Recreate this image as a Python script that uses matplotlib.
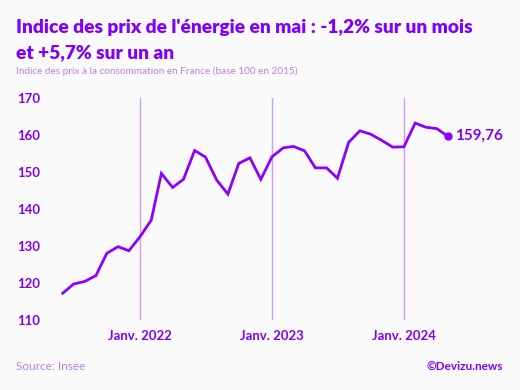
import numpy as np
import pandas as pd
import matplotlib
matplotlib.use("Agg")
import matplotlib.pyplot as plt
import matplotlib.dates as mdates

# Indice des prix de l'énergie, juin 2021 -> mai 2024
months = pd.date_range("2021-06-01", periods=36, freq="MS")
values = [117.3, 119.8, 120.5, 122.1, 128.1, 129.9, 128.8,
          132.6, 137.1, 149.7, 145.9, 148.1, 155.9, 154.1, 147.9, 144.1, 152.4, 153.9, 148.1,
          154.2, 156.6, 157.0, 155.8, 151.2, 151.2, 148.4, 158.1, 161.2, 160.3, 158.6, 156.8,
          156.9, 163.3, 162.2, 161.8, 159.76]
ytick_vals = [110, 120, 130, 140, 150, 160, 170]
xtick_dates = pd.to_datetime(["2022-01-01", "2023-01-01", "2024-01-01"])
xtick_labels = ["Janv. 2022", "Janv. 2023", "Janv. 2024"]
last_label = "159,76"

purple = "#7f00ff"
line_col = "#8b00ff"
light = "#b77ef2"
grid_col = "#c9a0f5"
bg = "#fafafa"
font = "Lato"

fig = plt.figure(figsize=(5.2, 3.9), dpi=100, facecolor=bg)
ax = fig.add_axes([62.7 / 520, (390 - 320.3) / 390, 385 / 520, 222 / 390])
ax.set_facecolor(bg)

ax.plot(months, values, color=line_col, lw=2.0, solid_joinstyle="miter", clip_on=False)
ax.plot(months[-1:], values[-1:], "o", color=line_col, ms=5, clip_on=False)
ax.annotate(last_label, (mdates.date2num(months[-1]), values[-1]), xytext=(5, 0),
            textcoords="offset points", va="center", ha="left", color=purple,
            fontsize=11, fontweight="bold", family=font, annotation_clip=False)

ax.set_xlim(months[0], months[-1])
ax.set_ylim(110, 170)
ax.set_yticks(ytick_vals)
ax.set_yticklabels([str(v) for v in ytick_vals], fontsize=9.5, fontweight="bold",
                   color=purple, family=font, ha="left")
ax.tick_params(axis="y", length=0, pad=33)
ax.set_xticks(xtick_dates)
ax.set_xticklabels(xtick_labels, fontsize=9.5, fontweight="bold", color=purple, family=font)
ax.tick_params(axis="x", length=0, pad=7)
ax.grid(axis="x", color=grid_col, lw=1.0)
ax.grid(axis="y", visible=False)
for s in ax.spines.values():
    s.set_visible(False)

fig.text(16 / 520, 1 - 27.5 / 390, "Indice des prix de l'énergie en mai : -1,2% sur un mois",
         fontsize=13.8, fontweight="heavy", color=purple, family=font, va="center")
fig.text(16 / 520, 1 - 52.5 / 390, "et +5,7% sur un an",
         fontsize=13.8, fontweight="heavy", color=purple, family=font, va="center")
fig.text(16 / 520, 1 - 71.5 / 390, "Indice des prix à la consommation en France (base 100 en 2015)",
         fontsize=7.2, color=light, family=font, va="center")
fig.text(16 / 520, 1 - 366 / 390, "Source: Insee", fontsize=8.5, color=light, family=font, va="center")
fig.text(503 / 520, 1 - 366 / 390, "©Devizu.news", fontsize=8.5, fontweight="bold",
         color=purple, family=font, va="center", ha="right")

fig.savefig("out.png", dpi=100, facecolor=bg)
